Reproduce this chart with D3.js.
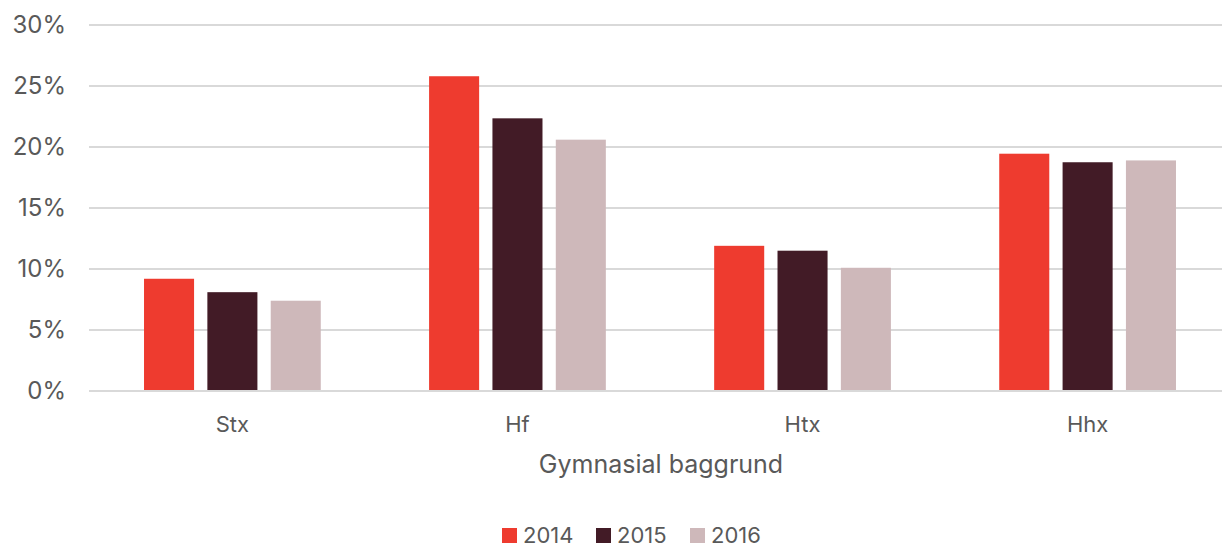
<!DOCTYPE html>
<html>
<head>
<meta charset="utf-8">
<script src="https://cdn.jsdelivr.net/npm/d3@7"></script>
<style>
  body { margin: 0; background: #fff; }
  svg { display: block; font-family: Inter, "Open Sans", sans-serif; }
</style>
</head>
<body>
<svg id="chart" width="1222" height="548"></svg>
<script>
// data
const categories = ["Stx", "Hf", "Htx", "Hhx"];
const years = ["2014", "2015", "2016"];
const values2014 = [9.2, 25.8, 11.9, 19.45];
const values2015 = [8.1, 22.35, 11.5, 18.75];
const values2016 = [7.4, 20.6, 10.1, 18.9];
const yTicks = [0, 5, 10, 15, 20, 25, 30];
const colors = ["#ee3b2f", "#421b26", "#ceb8ba"];

const series = [values2014, values2015, values2016];
const rows = categories.map((c, i) => ({cat: c, vals: series.map(s => s[i])}));

const svg = d3.select("#chart");
const margin = {top: 25, right: -9, bottom: 157, left: 89};
const width = 1222, height = 548;

// scales
const x0 = d3.scaleBand()
  .domain(categories)
  .range([margin.left, width - margin.right])
  .paddingInner(0.38)
  .paddingOuter(0.193);

const x1 = d3.scaleBand()
  .domain(years)
  .range([0, x0.bandwidth()])
  .paddingInner(0.21)
  .paddingOuter(0);

const y = d3.scaleLinear()
  .domain([0, 30])
  .range([height - margin.bottom, margin.top]);

// gridlines
svg.append("g")
  .selectAll("line")
  .data(yTicks.slice(1))
  .enter()
  .append("line")
  .attr("x1", margin.left)
  .attr("x2", width)
  .attr("y1", d => y(d))
  .attr("y2", d => y(d))
  .attr("stroke", "#d9d9d9")
  .attr("stroke-width", 2);

// y axis labels
const yAxis = d3.axisLeft(y).tickValues(yTicks).tickFormat(d => d + "%").tickSize(0).tickPadding(23);
const gy = svg.append("g")
  .attr("transform", `translate(${margin.left}, 0)`)
  .call(yAxis);
gy.select(".domain").remove();
gy.selectAll("text")
  .attr("fill", "#595959")
  .style("font-size", "24px")
  .style("font-family", "Inter, sans-serif");

// bars
svg.append("g")
  .selectAll("g")
  .data(rows)
  .enter()
  .append("g")
  .attr("transform", d => `translate(${x0(d.cat)}, 0)`)
  .selectAll("rect")
  .data(d => d.vals.map((v, i) => ({year: years[i], v: v, i: i})))
  .enter()
  .append("rect")
  .attr("x", d => x1(d.year))
  .attr("width", x1.bandwidth())
  .attr("y", d => y(d.v))
  .attr("height", d => y(0) - y(d.v))
  .attr("fill", d => colors[d.i]);

// x axis
const xAxis = d3.axisBottom(x0).tickSize(0).tickPadding(25);
const gx = svg.append("g")
  .attr("transform", `translate(0, ${y(0)})`)
  .call(xAxis);
gx.select(".domain").remove();
gx.selectAll("text")
  .attr("fill", "#595959")
  .style("font-size", "22px")
  .style("font-family", "Inter, sans-serif");

svg.append("line")
  .attr("x1", margin.left)
  .attr("x2", width)
  .attr("y1", y(0))
  .attr("y2", y(0))
  .attr("stroke", "#d9d9d9")
  .attr("stroke-width", 2);

// axis title
svg.append("text")
  .attr("x", 661)
  .attr("y", 473)
  .attr("text-anchor", "middle")
  .attr("fill", "#595959")
  .style("font-size", "25px")
  .text("Gymnasial baggrund");

// legend
const legendX = [502, 596, 690];
const legend = svg.append("g")
  .selectAll("g")
  .data(years)
  .enter()
  .append("g")
  .attr("transform", (d, i) => `translate(${legendX[i]}, 528)`);
legend.append("rect")
  .attr("width", 15)
  .attr("height", 15)
  .attr("fill", (d, i) => colors[i]);
legend.append("text")
  .attr("x", 21)
  .attr("y", 15)
  .attr("fill", "#595959")
  .style("font-size", "22px")
  .text(d => d);
</script>
</body>
</html>
